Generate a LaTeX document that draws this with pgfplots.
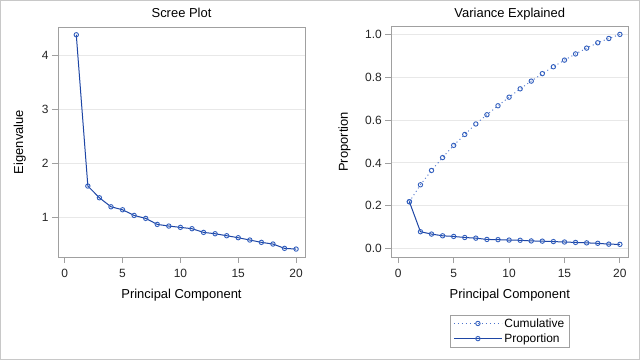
\documentclass[border=0pt]{standalone}
\usepackage{fontspec}
\setmainfont{Liberation Sans}
\usepackage{pgfplots}
\pgfplotsset{compat=1.18}
\definecolor{lineblue}{RGB}{30,70,165}
\definecolor{markblue}{RGB}{50,95,190}
\definecolor{cumblue}{RGB}{75,115,205}
\definecolor{framegray}{RGB}{160,160,160}
\definecolor{gridgray}{RGB}{232,232,232}
\definecolor{bordergray}{RGB}{200,200,200}
\pgfplotsset{
  mystyle/.style={
    scale only axis,
    axis line style={framegray},
    tick style={framegray, line width=0.8bp},
    major tick length=6bp,
    tick align=outside,
    xtick pos=bottom, ytick pos=left,
    ymajorgrids,
    grid style={gridgray, line width=1bp},
    tick label style={font=\fontsize{12}{14}\selectfont, text=black!85},
    xticklabel style={yshift=-3bp},
    /pgf/number format/assume math mode=true,
    xtick={0,5,10,15,20},
    title style={font=\fontsize{13}{15}\selectfont, at={(0.5,1)}, anchor=base, yshift=3.5bp},
    xlabel style={font=\fontsize{13}{15}\selectfont, at={(0.5,0)}, anchor=base, yshift=-41.4bp},
    every axis y label/.style={font=\fontsize{13}{15}\selectfont, at={(axis description cs:0,0.5)}, rotate=90, anchor=base},
    legend image code/.code={\draw[mark repeat=2,mark phase=2,#1] plot coordinates {(0bp,0bp) (24bp,0bp) (48bp,0bp)};},
  }
}
\begin{document}
\begin{tikzpicture}
\useasboundingbox (0,0) rectangle (640bp,360bp);
\fill[white] (0,0) rectangle (640bp,360bp);
\draw[bordergray, line width=1bp] (0.5bp,0.5bp) rectangle (639.5bp,359.5bp);
\begin{axis}[mystyle,
  at={(58bp,103bp)}, anchor=south west,
  width=247bp, height=230bp,
  xmin=-0.58, xmax=20.77, ymin=0.26, ymax=4.52,
  ytick={1,2,3,4},
  title={Scree Plot},
  xlabel={Principal Component},
  ylabel={Eigenvalue},
  y label style={yshift=35bp},
]
\addplot[lineblue, line width=1bp, mark=o, mark size=2.2bp, mark options={markblue, solid, line width=0.9bp}] coordinates {
(1,4.376) (2,1.574) (3,1.357) (4,1.190) (5,1.135) (6,1.030) (7,0.975) (8,0.864) (9,0.833) (10,0.809)
(11,0.784) (12,0.716) (13,0.691) (14,0.654) (15,0.617) (16,0.574) (17,0.531) (18,0.500) (19,0.420) (20,0.407)};
\end{axis}
\begin{axis}[mystyle,
  at={(391.3bp,103bp)}, anchor=south west,
  width=237bp, height=230.3bp,
  xmin=-0.63, xmax=20.76, ymin=-0.039, ymax=1.036,
  ytick={0,0.2,0.4,0.6,0.8,1.0},
  yticklabel style={/pgf/number format/.cd, fixed, fixed zerofill, precision=1},
  title={Variance Explained},
  xlabel={Principal Component},
  ylabel={Proportion},
  y label style={yshift=43.5bp},
  legend style={at={(0.5,-0.2505)}, anchor=north, draw=framegray, font=\fontsize{12}{14}\selectfont,
    cells={anchor=west}, inner xsep=3.5bp, inner ysep=1.5bp, row sep=1bp},
]
\addplot[cumblue, line width=0.9bp, dash pattern=on 1bp off 3bp, mark=o, mark size=2.2bp, mark options={markblue, solid, line width=0.9bp}] coordinates {
(1,0.219) (2,0.298) (3,0.365) (4,0.425) (5,0.482) (6,0.533) (7,0.582) (8,0.625) (9,0.667) (10,0.707)
(11,0.746) (12,0.782) (13,0.817) (14,0.849) (15,0.880) (16,0.909) (17,0.936) (18,0.961) (19,0.981) (20,1.000)};
\addlegendentry{Cumulative}
\addplot[lineblue, line width=1bp, mark=o, mark size=2.2bp, mark options={markblue, solid, line width=0.9bp}] coordinates {
(1,0.219) (2,0.079) (3,0.068) (4,0.060) (5,0.057) (6,0.052) (7,0.049) (8,0.043) (9,0.042) (10,0.040)
(11,0.039) (12,0.036) (13,0.035) (14,0.033) (15,0.031) (16,0.029) (17,0.027) (18,0.025) (19,0.021) (20,0.020)};
\addlegendentry{Proportion}
\end{axis}
\end{tikzpicture}
\end{document}
